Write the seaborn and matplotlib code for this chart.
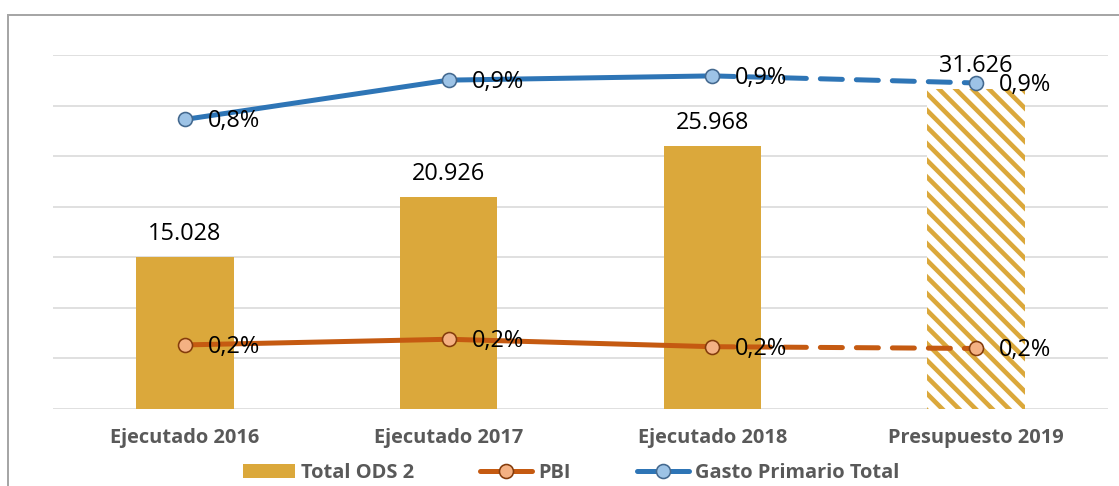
import numpy as np
import pandas as pd
import matplotlib
matplotlib.use("Agg")
import matplotlib.pyplot as plt
import seaborn as sns
from matplotlib.lines import Line2D
from matplotlib.patches import Patch, Rectangle

# ---- data ----
categories = ["Ejecutado 2016", "Ejecutado 2017", "Ejecutado 2018", "Presupuesto 2019"]
total_ods2 = [15028, 20926, 25968, 31626]
pbi_pct = [0.181, 0.197, 0.176, 0.171]
gasto_pct = [0.818, 0.929, 0.941, 0.921]
series_names = ["Total ODS 2", "PBI", "Gasto Primario Total"]

# ---- sizes ----
DPI = 200
W, H = 1119, 486
S = 72 / DPI  # px -> pt

sns.set_theme(style="white")
plt.rcParams["font.family"] = ["Open Sans", "DejaVu Sans"]
plt.rcParams["hatch.linewidth"] = 4.6 * S

GOLD = "#DBA83B"
BLUE, BLUE_FACE, BLUE_EDGE = "#2E75B6", "#9DC3E6", "#44698F"
ORANGE, ORANGE_FACE, ORANGE_EDGE = "#C55A11", "#F4B183", "#843C0C"
GRID, TXT = "#D9D9D9", "#595959"
LW = 5 * S
MS = 14 * S

fig = plt.figure(figsize=(W / DPI, H / DPI), dpi=DPI)
fig.patch.set_facecolor("white")
ax = fig.add_axes([53 / W, 77 / H, (1108 - 53) / W, (409 - 55) / H])

df = pd.DataFrame({"cat": categories, "val": total_ods2})
sns.barplot(data=df, x="cat", y="val", color=GOLD, width=0.37, saturation=1,
            ax=ax, zorder=2, linewidth=0)
last = ax.patches[-1]
last.set_facecolor("white")
last.set_edgecolor(GOLD)
last.set_hatch("\\" * 4)
last.set_linewidth(0)

ax.set_xlim(-0.5, 3.5)
ax.set_ylim(0, 35000)
ax.set_yticks(np.arange(0, 35001, 5000))
ax.set_yticklabels([])
ax.yaxis.grid(True, color=GRID, lw=1.6 * S)
ax.set_axisbelow(True)
for sp in ax.spines.values():
    sp.set_visible(False)
ax.tick_params(axis="both", length=0)
ax.tick_params(axis="x", pad=19 * S)
ax.set_xlabel("")
ax.set_ylabel("")
ax.set_xticks(range(len(categories)))
ax.set_xticklabels(categories, fontweight="bold", color=TXT, fontsize=20 * S)

for i, v in enumerate(total_ods2):
    ax.annotate(f"{v:,}".replace(",", "."), (i, v), xytext=(0, 17 * S),
                textcoords="offset points", ha="center", va="baseline",
                fontsize=23.5 * S, color="black", zorder=5)

# ---- lines on secondary axis ----
ax2 = ax.twinx()
ax2.set_ylim(0, 1.0)
ax2.set_xlim(-0.5, 3.5)
for sp in ax2.spines.values():
    sp.set_visible(False)
ax2.set_yticks([])
ax2.grid(False)

xs = np.arange(len(categories))
for vals, col, face, edge in [(pbi_pct, ORANGE, ORANGE_FACE, ORANGE_EDGE),
                              (gasto_pct, BLUE, BLUE_FACE, BLUE_EDGE)]:
    sns.lineplot(x=xs[:3], y=vals[:3], ax=ax2, color=col, lw=LW,
                 solid_capstyle="round", zorder=3)
    sns.lineplot(x=xs[2:], y=vals[2:], ax=ax2, color=col, lw=LW,
                 linestyle=(0, (4.4, 2.8)), dash_capstyle="round", zorder=3)
    sns.scatterplot(x=xs, y=vals, ax=ax2, s=MS ** 2, color=face,
                    edgecolor=edge, linewidth=1.6 * S, zorder=4)
    for i, v in enumerate(vals):
        ax2.annotate(f"{v:.1f}".replace(".", ",") + "%", (i, v),
                     xytext=(23 * S, -2 * S), textcoords="offset points",
                     ha="left", va="center", fontsize=23.5 * S,
                     color="black", zorder=6)

# ---- legend ----
handles = [
    Patch(facecolor=GOLD, edgecolor="none"),
    Line2D([], [], color=ORANGE, lw=LW, marker="o", markersize=MS,
           markerfacecolor=ORANGE_FACE, markeredgecolor=ORANGE_EDGE,
           markeredgewidth=1.6 * S, solid_capstyle="round"),
    Line2D([], [], color=BLUE, lw=LW, marker="o", markersize=MS,
           markerfacecolor=BLUE_FACE, markeredgecolor=BLUE_EDGE,
           markeredgewidth=1.6 * S, solid_capstyle="round"),
]
leg = fig.legend(handles, series_names, loc="center",
                 bbox_to_anchor=(571 / W, 1 - 473 / H), ncol=3, frameon=False,
                 prop={"weight": "bold", "size": 20 * S},
                 handlelength=2.6, handletextpad=0.3, columnspacing=3.3)
for t in leg.get_texts():
    t.set_color(TXT)

# ---- outer frame ----
fig.add_artist(Rectangle((8 / W, -0.2), 1.5, (H - 15) / H + 0.2,
                         transform=fig.transFigure, fill=False,
                         edgecolor="#A6A6A6", lw=2 * S, zorder=10))

fig.savefig("out.png", dpi=DPI)
